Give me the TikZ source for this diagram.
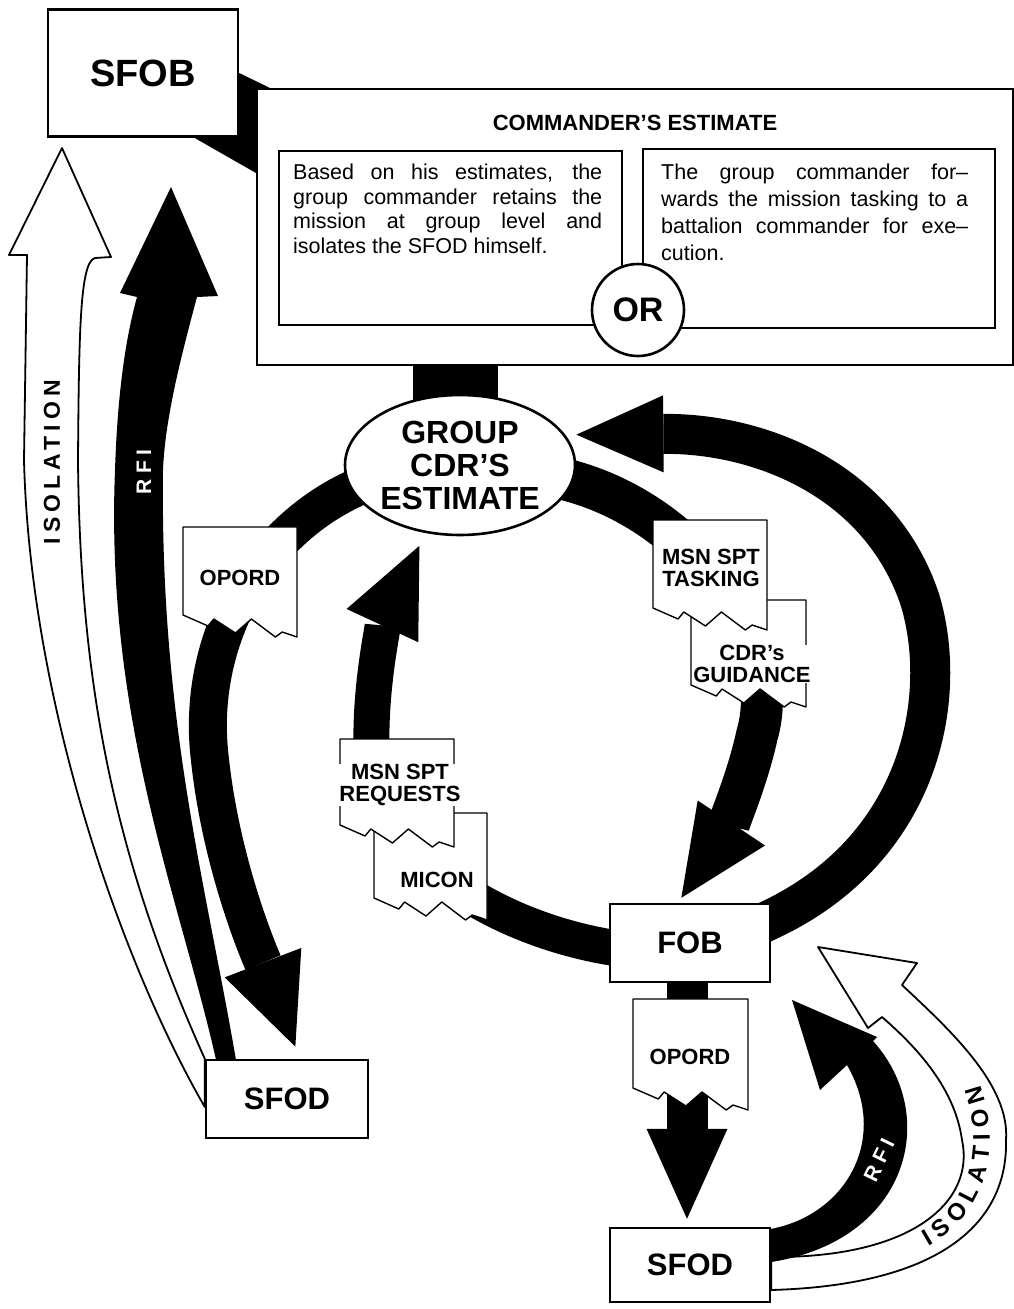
\documentclass[tikz,border=0pt]{standalone}
\usepackage{fontspec}
\setmainfont{Liberation Sans}
\usetikzlibrary{arrows.meta,positioning,calc,shapes.geometric,backgrounds,decorations.text}
\newcommand{\isofont}{\bfseries\fontsize{24}{24}\selectfont}
\newcommand{\tornpage}[3]{%
  \draw[docpage] #1 -- ++(#2,0) -- ++(0,{#3+22}) -- ++({-0.13*#2},-5) -- ++({-0.06*#2},5)
    -- ++({-0.21*#2},-18) -- ++({-0.14*#2},14) -- ++({-0.19*#2},-14) -- ++({-0.05*#2},7)
    -- ++({-0.22*#2},-11) -- cycle;}

\begin{document}
\begin{tikzpicture}[x=1pt, y=-1pt,
  box/.style={draw, line width=2.4pt, fill=white, inner sep=0pt},
  basebox/.style={box, minimum width=160pt, minimum height=78pt, font=\bfseries\fontsize{31}{31}\selectfont},
  panel/.style={draw, line width=2pt, fill=white, anchor=north west, inner sep=0pt},
  para/.style={anchor=north west, inner sep=0pt, align=justify},
  band/.style={draw=black, line width=40pt},
  headed/.style args={#1/#2}{-{Triangle[length=#1pt,width=#2pt,line width=0pt]}},
  docpage/.style={draw, line width=1.4pt, fill=white, line join=round},
  doclabel/.style={fill=white, inner sep=0.5pt, align=center, font=\bfseries\fontsize{22}{22}\selectfont},
  hollow/.style={draw, line width=1.8pt, fill=white, line join=round},
  bandword/.style={inner sep=0pt, font=\bfseries\fontsize{21}{21}\selectfont\addfontfeature{LetterSpace=25}}
]
\useasboundingbox (0,0) rectangle (1014,1309);

\node[box, minimum width=190pt, minimum height=127pt, font=\bfseries\fontsize{38}{38}\selectfont] (sfob) at (143,73) {SFOB};
\node[box, anchor=north west, minimum width=756pt, minimum height=276pt] (cmd) at (256,88) {};
\node[font=\bfseries\fontsize{22}{22}\selectfont] (cmdtitle) at (635,123) {COMMANDER'S ESTIMATE};
\node[panel, minimum width=343pt, minimum height=174pt] (retainpanel) at (278,150) {};
\node[panel, minimum width=352pt, minimum height=179pt] (forwardpanel) at (642,148) {};
\node[para, text width=309pt, font=\fontsize{21.5}{24.5}\selectfont] (retaintext) at (293,164) {Based on his estimates, the\linebreak group commander retains the\linebreak mission at group level and\linebreak isolates the SFOD himself.};
\node[para, text width=307pt, font=\fontsize{21.5}{27}\selectfont] (forwardtext) at (661,164) {The group commander for--\linebreak wards the mission tasking to a\linebreak battalion commander for exe--\linebreak cution.};
\node[circle, draw, line width=2.6pt, fill=white, minimum size=92pt, inner sep=0pt, font=\bfseries\fontsize{34}{34}\selectfont] (orbadge) at (638,310) {OR};
\node[ellipse, draw, line width=2.6pt, fill=white, minimum width=230pt, minimum height=140pt, inner sep=0pt, align=center, font=\bfseries\fontsize{32}{33}\selectfont] (est) at (460,465) {GROUP\\CDR'S\\ESTIMATE};
\node[basebox] (fob) at (690,943) {FOB};
\node[basebox, minimum width=162pt] (sfodL) at (287,1099) {SFOD};
\node[basebox, minimum height=74pt] (sfodR) at (690,1265) {SFOD};

\coordinate (isoTipL) at (62,148);
\coordinate (rfiTipL) at (171,187);
\coordinate (isoTipR) at (818,947);
\coordinate (rfiTipR) at (792,1000);

\begin{scope}[on background layer]
\fill (sfob.east) -- ([xshift=14pt]cmd.north west) -- ([yshift=-85pt]cmd.north west) -- ([xshift=-45pt]sfob.south east) -- cycle;
\draw[band, line width=85pt] ([xshift=-5pt]est.center) -- ([xshift=-5pt]est.center |- cmd.south);
\draw[band, line width=38pt, headed=90/82, shorten >=13pt] ([xshift=20pt]est.189) .. controls (260,525) and (195,640) .. (210,760) .. controls (222,870) and (262,960) .. ([xshift=13pt]sfodL.north);
\draw[band, line width=42pt, headed=90/81, shorten >=6pt] ([xshift=-20pt]est.-6) .. controls (690,505) and (785,640) .. (757,735) .. controls (745,790) and (720,840) .. ([xshift=-12pt]fob.north);
\draw[band, headed=87/77, shorten >=11pt] ([xshift=-20pt,yshift=15pt]fob.east) .. controls (920,860) and (950,700) .. (920,600) .. controls (880,480) and (760,433) .. (est.16);
\draw[band, line width=36pt, headed=88/79, shorten >=14pt] ([xshift=20pt,yshift=-7pt]fob.west) .. controls (505,935) and (378,860) .. (372,760) .. controls (368,690) and (385,620) .. (est.243);
\draw[band, line width=41pt, headed=90/81, shorten >=8pt] ([xshift=-3pt]fob.south) -- ([xshift=-3pt]sfodR.north);
\draw[hollow] (sfodL.north west) .. controls (120,870) and (80,700) .. (78,460) .. controls (79,330) and (80,262) .. (95,258) -- (111,257) -- (isoTipL) -- (9,255) -- (27,255) -- (24,460) .. controls (30,700) and (120,960) .. ([yshift=-8pt]sfodL.west) -- cycle;
\fill ([xshift=11pt]sfodL.north west) .. controls (180,900) and (105,720) .. (115,470) .. controls (118,380) and (128,330) .. (137,297) -- (120,293) -- (rfiTipL) -- (218,296) -- (197,297) .. controls (180,360) and (165,420) .. (163,470) .. controls (160,720) and (205,880) .. ([xshift=31pt]sfodL.north west) -- cycle;
\draw[hollow] ([yshift=8pt]sfodR.east) .. controls (915,1258) and (975,1200) .. (962,1140) .. controls (955,1090) and (920,1050) .. (882,1017) -- (868,1028) -- (isoTipR) -- (917,963) -- (902,985) .. controls (950,1030) and (1010,1085) .. (1006,1140) .. controls (1008,1220) and (945,1285) .. ([yshift=-25pt]sfodR.east) -- cycle;
\fill ([yshift=-2pt]sfodR.north east) .. controls (845,1215) and (890,1140) .. (847,1065) -- (820,1090) -- (rfiTipR) -- (877,1037) -- (873,1041) .. controls (940,1115) and (910,1240) .. ([yshift=3pt]sfodR.east) -- cycle;
\end{scope}

\tornpage{(183,527)}{114}{88}
\node[doclabel] (opordL) at (240,578) {OPORD};
\tornpage{(691,600)}{115}{85}
\node[doclabel] (guidance) at (752,664) {CDR's\\GUIDANCE};
\tornpage{(653,520)}{114}{88}
\node[doclabel] (tasking) at (711,568) {MSN SPT\\TASKING};
\tornpage{(374,813)}{113}{85}
\node[doclabel] (micon) at (437,880) {MICON};
\tornpage{(340,739)}{114}{86}
\node[doclabel] (requests) at (400,785) {MSN SPT\\REQUESTS};
\tornpage{(633,999)}{115}{89}
\node[doclabel] (opordR) at (690,1057) {OPORD};

\node[bandword, rotate=90, font=\bfseries\fontsize{23}{23}\selectfont\addfontfeature{LetterSpace=22}] (isolationL) at (52,462) {ISOLATION};
\node[bandword, text=white, rotate=90] (rfiL) at (144,472) {RFI};
\node[bandword, text=white, rotate=64] (rfiR) at (879,1160) {RFI};
\path[decorate, decoration={text along path, text align=fit to path, text={|\isofont|ISOLATION}}] (928,1246) .. controls (985,1215) and (1003,1150) .. (980,1085);
\end{tikzpicture}
\end{document}
